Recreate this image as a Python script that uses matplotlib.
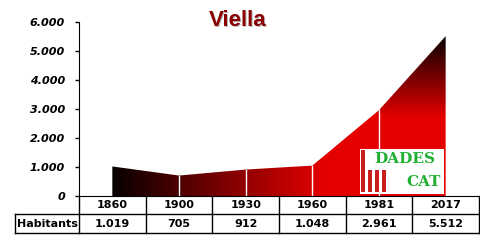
import matplotlib.pyplot as plt
import numpy as np
from matplotlib.patches import Rectangle
from matplotlib.lines import Line2D

years = ['1860', '1900', '1930', '1960', '1981', '2017']
habitants = [1019, 705, 912, 1048, 2961, 5512]
hab_labels = ['1.019', '705', '912', '1.048', '2.961', '5.512']
yticks = [0, 1000, 2000, 3000, 4000, 5000, 6000]
ytick_labels = ['0', '1.000', '2.000', '3.000', '4.000', '5.000', '6.000']

fig = plt.figure(figsize=(4.8, 2.4), dpi=100)
ax = fig.add_axes([79 / 480, 1 - 196 / 240, 400 / 480, 174 / 240])
x = np.arange(len(years))
ax.set_xlim(-0.5, len(years) - 0.5)
ax.set_ylim(0, 6000)

# gradient fill: black at left / top, red toward the bottom right
poly = ax.fill_between(x, habitants, 0, color='none', lw=0)
gx = np.linspace(-0.5, 5.5, 300)
gy = np.linspace(0, 6000, 300)
GX, GY = np.meshgrid(gx, gy)
hx = np.clip(GX / 3.2, 0, 1)
vy = np.clip((5500 - GY) / 2800, 0, 1)
b = hx * vy
img = np.zeros(GX.shape + (3,))
img[..., 0] = 0.03 + 0.87 * b
im = ax.imshow(img, extent=[-0.5, 5.5, 0, 6000], origin='lower', aspect='auto', zorder=1)
im.set_clip_path(poly.get_paths()[0], transform=ax.transData)

for i in range(1, len(years) - 1):
    ax.plot([x[i], x[i]], [0, habitants[i]], color='white', lw=1, zorder=2)

for s in ['top', 'right']:
    ax.spines[s].set_visible(False)
ax.set_yticks(yticks)
ax.set_yticklabels(ytick_labels, fontsize=8, fontweight='bold', fontstyle='italic',
                   family='DejaVu Sans')
ax.tick_params(axis='y', length=3, width=1, pad=7)
ax.set_xticks([])

# data table below the axis
tr = ax.transData
row1 = -621
row2 = -1276
lab_left = -1.46
kw = dict(color='black', lw=1, clip_on=False, transform=tr)
ax.add_line(Line2D([lab_left, 5.5], [row1, row1], **kw))
ax.add_line(Line2D([lab_left, 5.5], [row2, row2], **kw))
ax.add_line(Line2D([lab_left, lab_left], [row1, row2], **kw))
for k in range(len(years) + 1):
    ax.add_line(Line2D([k - 0.5, k - 0.5], [0, row2], **kw))
tfont = dict(fontsize=8, fontweight='bold', family='DejaVu Sans', ha='center', va='center',
             clip_on=False)
for i, (yr, lb) in enumerate(zip(years, hab_labels)):
    ax.text(i, row1 / 2, yr, **tfont)
    ax.text(i, (row1 + row2) / 2, lb, **tfont)
ax.text((lab_left - 0.5) / 2, (row1 + row2) / 2, 'Habitants', fontsize=8, fontweight='bold',
        family='Liberation Sans Narrow', ha='center', va='center')

# title
fig.text(238 / 480 + 0.002, 1 - 21 / 240 - 0.004, 'Viella', fontsize=16, fontweight='bold',
         color='#bbbbbb', ha='center', va='center', family='Liberation Sans')
fig.text(238 / 480, 1 - 21 / 240, 'Viella', fontsize=16, fontweight='bold',
         color='#8b0000', ha='center', va='center', family='Liberation Sans')

# DADES CAT logo
lx0, ly0, lw_, lh_ = 360 / 480, 1 - 194 / 240, 84 / 480, 45 / 240
fig.add_artist(Rectangle((lx0, ly0), lw_, lh_, transform=fig.transFigure,
                         facecolor='white', edgecolor='none', zorder=5))
bars = [(361, 150), (368, 170), (375, 170), (382, 170)]
for bx, by in bars:
    fig.add_artist(Rectangle((bx / 480, 1 - 192 / 240), 4 / 480, (192 - by) / 240,
                             transform=fig.transFigure, facecolor='#c81e1e',
                             edgecolor='none', zorder=6))
fig.text(405 / 480, 1 - 159 / 240, 'DADES', fontsize=11, fontweight='bold', color='#22b033',
         ha='center', va='center', family='DejaVu Serif', zorder=7)
fig.text(441 / 480, 1 - 182 / 240, 'CAT', fontsize=11, fontweight='bold', color='#22b033',
         ha='right', va='center', family='DejaVu Serif', zorder=7)

fig.savefig('out.png', dpi=100)
